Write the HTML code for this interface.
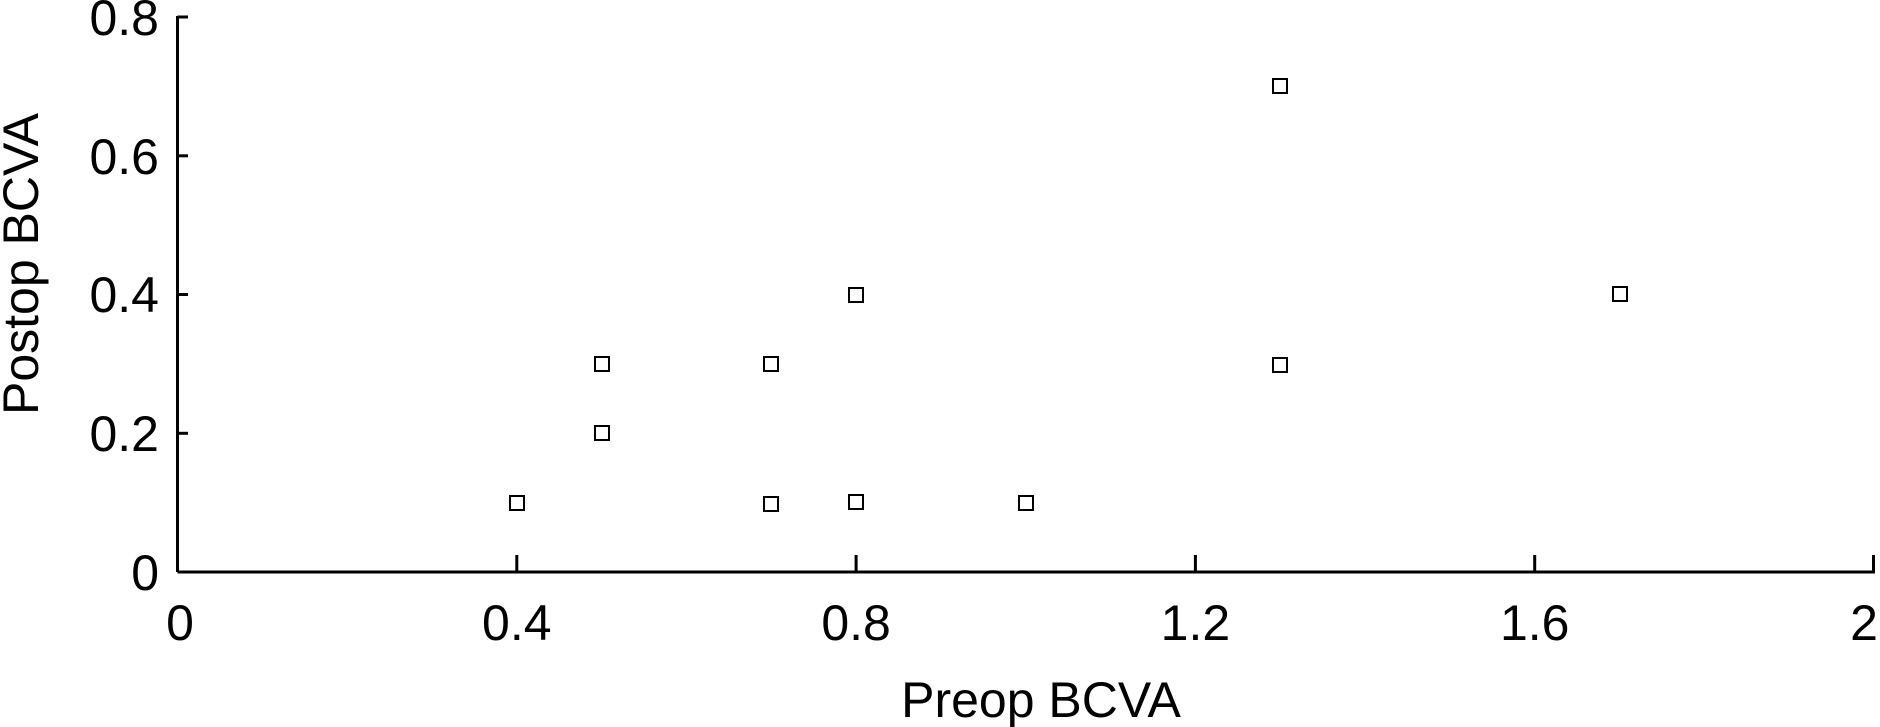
<!DOCTYPE html>
<html><head><style>body{margin:0;background:#fff}svg{display:block}</style></head>
<body>
<svg width="1880" height="727" xmlns="http://www.w3.org/2000/svg" font-family="Liberation Sans, Arial, sans-serif">
<g stroke="#000" stroke-width="3" fill="none">
<line x1="177.5" y1="572" x2="1875" y2="572"/>
<line x1="177.5" y1="572" x2="177.5" y2="16"/>
<line x1="516.8" y1="572" x2="516.8" y2="555"/>
<line x1="856.1" y1="572" x2="856.1" y2="555"/>
<line x1="1195.4" y1="572" x2="1195.4" y2="555"/>
<line x1="1534.7" y1="572" x2="1534.7" y2="555"/>
<line x1="1873.5" y1="572" x2="1873.5" y2="555"/>
<line x1="177.5" y1="433.3" x2="188" y2="433.3"/>
<line x1="177.5" y1="294.5" x2="188" y2="294.5"/>
<line x1="177.5" y1="155.8" x2="188" y2="155.8"/>
<line x1="177.5" y1="17" x2="188" y2="17"/>
</g>
<g font-size="50" text-anchor="end" fill="#000">
<text x="159" y="590">0</text>
<text x="159" y="451">0.2</text>
<text x="159" y="312">0.4</text>
<text x="159" y="174">0.6</text>
<text x="159" y="35">0.8</text>
</g>
<g font-size="50" text-anchor="middle" fill="#000">
<text x="180" y="640">0</text>
<text x="516.8" y="640">0.4</text>
<text x="856.1" y="640">0.8</text>
<text x="1195.4" y="640">1.2</text>
<text x="1534.7" y="640">1.6</text>
<text x="1864" y="640">2</text>
<text x="1041" y="717">Preop BCVA</text>
<text transform="translate(38,264) rotate(-90)">Postop BCVA</text>
</g>
<g stroke="#000" stroke-width="2" fill="none">
<rect x="510" y="496" width="14" height="14"/>
<rect x="595" y="357" width="14" height="14"/>
<rect x="595" y="426" width="14" height="14"/>
<rect x="764" y="357" width="14" height="14"/>
<rect x="764" y="497" width="14" height="14"/>
<rect x="849" y="288" width="14" height="14"/>
<rect x="849" y="495" width="14" height="14"/>
<rect x="1019" y="496" width="14" height="14"/>
<rect x="1273" y="79" width="14" height="14"/>
<rect x="1273" y="358" width="14" height="14"/>
<rect x="1613" y="287" width="14" height="14"/>
</g>
</svg>
</body></html>
